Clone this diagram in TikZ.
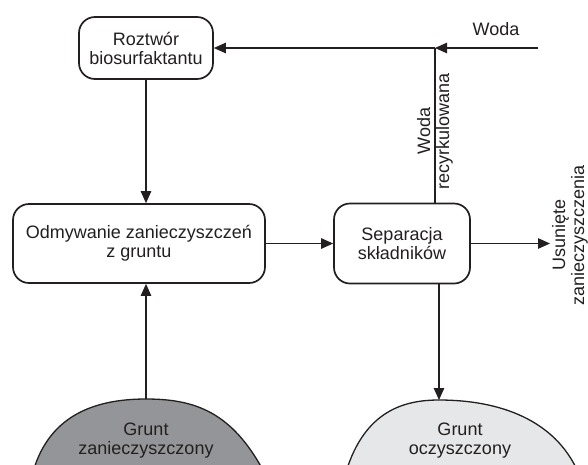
\documentclass[tikz,border=0pt]{standalone}
\usepackage{fontspec}
\setmainfont{Liberation Sans}
\usetikzlibrary{arrows.meta,positioning}
\definecolor{ink}{HTML}{231F20}
\definecolor{soildark}{HTML}{939598}
\definecolor{soillight}{HTML}{E6E7E8}

\begin{document}
\begin{tikzpicture}[
    x=1pt, y=-1pt,
    font=\fontsize{18}{19}\selectfont,
    color=ink,
    block/.style={
        rectangle,
        draw,
        line width=1.7pt,
        rounded corners=16pt,
        fill=white,
        align=center,
        inner sep=0pt
    },
    line/.style={
        draw, -{Triangle[length=12pt,width=10.5pt]}, line width=1.1pt
    },
    sidetext/.style={
        align=center,
        rotate=90,
        inner sep=0pt
    },
    soil/.style={
        draw,
        line width=1.3pt
    }
]
\useasboundingbox (0,0) rectangle (588,464);

% Nodes
\node [block, minimum width=134pt, minimum height=62pt] (sol) at (146,48) {Roztwór\\biosurfaktantu};
\node [block, minimum width=252pt, minimum height=79pt] (wash) at (139,243.5) {Odmywanie zanieczyszczeń\\z gruntu};
\node [block, minimum width=136pt, minimum height=80pt, right of=wash, node distance=263pt] (sep) {Separacja\\składników};

\coordinate (waterin) at (538,48);
\coordinate (mix) at (435,48);
\coordinate (waste) at (550,242);
\coordinate (dirtytop) at (146,399);
\coordinate (cleantop) at (439,400);

% Soil
\draw [soil, fill=soildark] (33,472) .. controls (50,412) and (100,399) .. (dirtytop) .. controls (195,399) and (232,412) .. (264,472) -- cycle;
\draw [soil, fill=soillight] (346,472) .. controls (365,410) and (405,400) .. (cleantop) .. controls (500,400) and (555,420) .. (578,472) -- cycle;
\node [align=center, inner sep=0pt] (dirty) at (146,441) {Grunt\\zanieczyszczony};
\node [align=center, inner sep=0pt] (clean) at (460,441) {Grunt\\oczyszczony};

% Labels
\node [inner sep=0pt] (water) at (496,29) {Woda};
\node [sidetext] (recycle) at (435,131) {Woda\\recyrkulowana};
\node [sidetext] (removed) at (570,235) {Usunięte\\zanieczyszczenia};

% Arrows
\draw [line] (waterin) -- (mix);
\draw [line] (mix) -- (mix -| sol.east);
\draw [line width=1.1pt] (sep.north -| mix) -- (mix);
\draw [line] (sol.south) -- (sol.south |- wash.north);
\draw [line] (wash.east) -- (sep.west);
\draw [line] (sep.east) -- (sep.east -| waste);
\draw [line] (sep.south -| cleantop) -- (cleantop);
\draw [line] (dirtytop) -- (wash.south -| dirtytop);

\end{tikzpicture}
\end{document}
